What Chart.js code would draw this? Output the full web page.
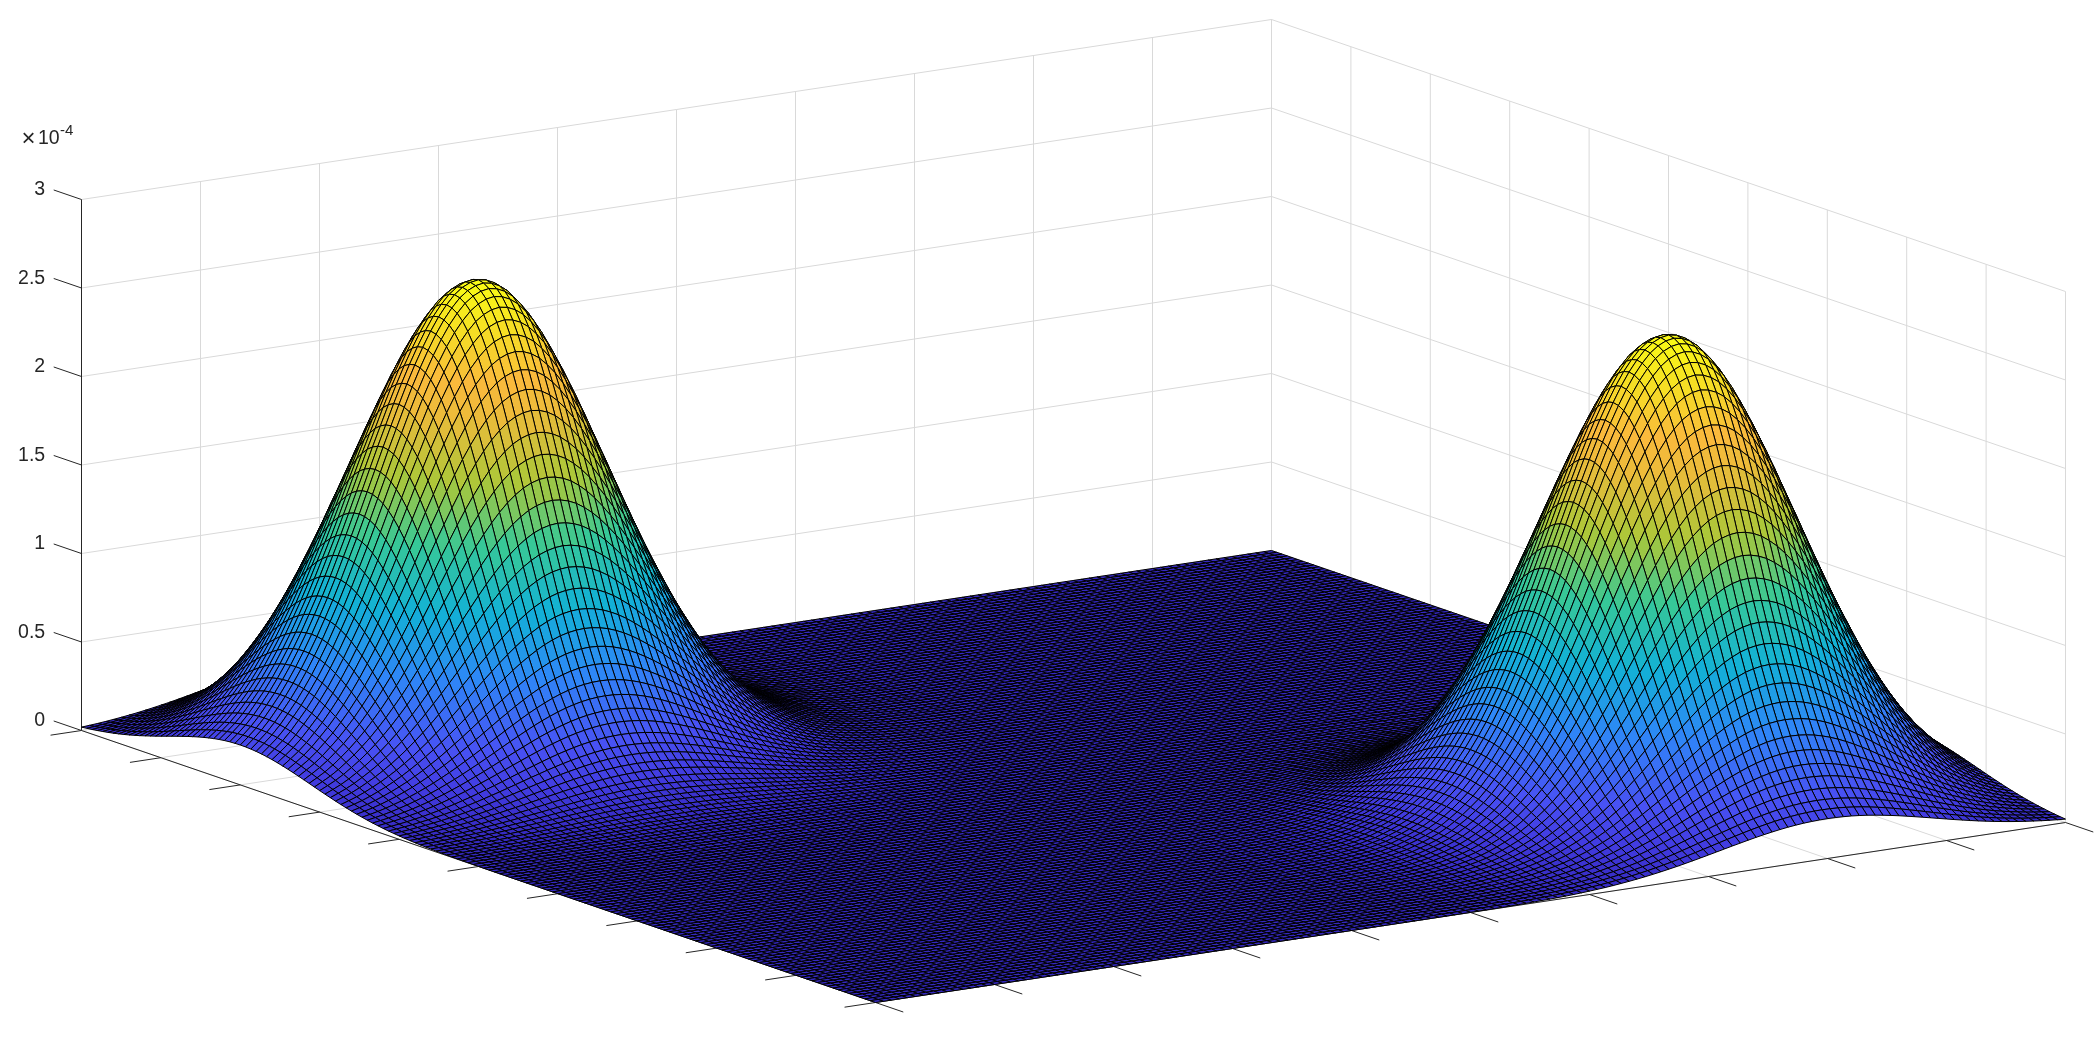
<!DOCTYPE html>
<html lang="en">
<head>
  <meta charset="UTF-8">
  <title>Surface</title>
  <style>
    html, body { margin: 0; padding: 0; background: #fff; }
    canvas { display: block; }
  </style>
</head>
<body>
  <canvas id="chart1" width="2095" height="1056"></canvas>

  <script src="https://cdnjs.cloudflare.com/ajax/libs/Chart.js/4.4.1/chart.umd.min.js"></script>
  <script>
    // tick values on the three axes
    const xTicks = [0, 0.1, 0.2, 0.3, 0.4, 0.5, 0.6, 0.7, 0.8, 0.9, 1];
    const yTicks = [0, 0.1, 0.2, 0.3, 0.4, 0.5, 0.6, 0.7, 0.8, 0.9, 1];
    const zTicks = [0, 0.5, 1, 1.5, 2, 2.5, 3];
    const zTickLabels = ["0", "0.5", "1", "1.5", "2", "2.5", "3"];

    // peak height of each bump (x 10^-4)
    const peakA = 2.65;
    const peakB = 2.65;

    // cross sections of the two bumps, 151 mesh lines per side
    const profileA = [
      .085,.100,.116,.135,.157,.180,.206,.234,.265,.298,
      .334,.371,.411,.453,.495,.539,.584,.629,.674,.717,
      .760,.801,.839,.874,.906,.934,.957,.976,.989,.997,
      1,
      .997,.989,.976,.957,.934,.906,.874,.839,.801,.760,
      .717,.674,.629,.584,.539,.495,.453,.411,.371,.334,
      .298,.265,.234,.206,.180,.157,.135,.116,.100,.085,
      .072,.060,.050,.042,.035,.029,.023,.019,.015,.012,
      .010,.008,.006,.005,.004,.003,.002,.002,.001,.001,
      0,0,0,0,0,0,0,0,0,0, 0,0,0,0,0,0,0,0,0,0,
      0,0,0,0,0,0,0,0,0,0, 0,0,0,0,0,0,0,0,0,0,
      0,0,0,0,0,0,0,0,0,0, 0,0,0,0,0,0,0,0,0,0,
      0,0,0,0,0,0,0,0,0,0
    ];
    const profileB = [
      0,0,0,0,0,0,0,0,0,0, 0,0,0,0,0,0,0,0,0,0,
      0,0,0,0,0,0,0,0,0,0, 0,0,0,0,0,0,0,0,0,0,
      0,0,0,0,0,0,0,0,0,0, 0,0,0,0,0,0,0,0,0,0,
      0,0,0,0,0,0,0,0,0,0,
      .001,.001,.002,.002,.003,.004,.005,.006,.008,.010,
      .012,.015,.019,.023,.029,.035,.042,.050,.060,.072,
      .085,.100,.116,.135,.157,.180,.206,.234,.265,.298,
      .334,.371,.411,.453,.495,.539,.584,.629,.674,.717,
      .760,.801,.839,.874,.906,.934,.957,.976,.989,.997,
      1,
      .997,.989,.976,.957,.934,.906,.874,.839,.801,.760,
      .717,.674,.629,.584,.539,.495,.453,.411,.371,.334,
      .298,.265,.234,.206,.180,.157,.135,.116,.100,.085
    ];

    // parula colour stops
    const colorStops = [
      [0, 52, 40, 190], [0.06, 66, 60, 225], [0.125, 72, 82, 244], [0.25, 46, 135, 247],
      [0.375, 18, 177, 214], [0.5, 55, 200, 151], [0.625, 171, 199, 57], [0.75, 235, 187, 58],
      [0.82, 250, 186, 60], [0.9, 245, 217, 40], [1, 249, 251, 21]
    ];

    // view of the box on the page
    const origin = { x: 81.5, y: 730.5 };
    const xDir = { x: 794, y: 272 };
    const yDir = { x: 1190, y: -180 };
    const zUnit = 177;

    function project(u, v, z) {
      return {
        x: origin.x + xDir.x * u + yDir.x * v,
        y: origin.y + xDir.y * u + yDir.y * v - zUnit * z,
      };
    }

    function addSegment(list, a, b) {
      list.push(a, b, { x: NaN, y: NaN });
    }

    function surfaceColor(z) {
      const t = Math.min(1, Math.max(0, z / peakA));
      for (let i = 1; i < colorStops.length; i++) {
        if (t <= colorStops[i][0]) {
          const a = colorStops[i - 1];
          const b = colorStops[i];
          const k = (t - a[0]) / (b[0] - a[0]);
          return `rgb(${a[1] + (b[1] - a[1]) * k},${a[2] + (b[2] - a[2]) * k},${a[3] + (b[3] - a[3]) * k})`;
        }
      }
      return "rgb(249,251,21)";
    }

    // grid on the floor and on the two back walls
    const zTop = zTicks[zTicks.length - 1];
    const gridLines = [];
    for (const u of xTicks) {
      addSegment(gridLines, project(u, 0, 0), project(u, 1, 0));
      addSegment(gridLines, project(u, 1, 0), project(u, 1, zTop));
    }
    for (const v of yTicks) {
      addSegment(gridLines, project(0, v, 0), project(1, v, 0));
      addSegment(gridLines, project(0, v, 0), project(0, v, zTop));
    }
    for (const z of zTicks) {
      addSegment(gridLines, project(0, 0, z), project(0, 1, z));
      addSegment(gridLines, project(0, 1, z), project(1, 1, z));
    }

    // axis lines and tick marks
    const axisLines = [];
    addSegment(axisLines, project(0, 0, 0), project(1, 0, 0));
    addSegment(axisLines, project(1, 0, 0), project(1, 1, 0));
    addSegment(axisLines, project(0, 0, 0), project(0, 0, zTop));
    for (const u of xTicks) addSegment(axisLines, project(u, 0, 0), project(u, -0.026, 0));
    for (const v of yTicks) addSegment(axisLines, project(1, v, 0), project(1.035, v, 0));
    for (const z of zTicks) addSegment(axisLines, project(0, 0, z), project(-0.035, 0, z));

    // mesh vertices
    const meshSize = profileA.length;
    const heights = [];
    const vertices = [];
    for (let i = 0; i < meshSize; i++) {
      for (let j = 0; j < meshSize; j++) {
        const z = peakA * profileA[i] * profileA[j] + peakB * profileB[i] * profileB[j];
        heights.push(z);
        vertices.push(project(i / (meshSize - 1), j / (meshSize - 1), z));
      }
    }

    // paints the mesh back to front from the vertices the scales placed
    const surfacePlugin = {
      id: "surface",
      afterDatasetsDraw(chart) {
        const ctx = chart.ctx;
        const pts = chart.getDatasetMeta(2).data;
        ctx.save();
        ctx.lineWidth = 1;
        ctx.strokeStyle = "#000";
        ctx.lineJoin = "round";
        for (let i = 0; i < meshSize - 1; i++) {
          for (let j = meshSize - 2; j >= 0; j--) {
            const a = i * meshSize + j;
            const b = a + 1;
            const c = a + meshSize + 1;
            const d = a + meshSize;
            ctx.beginPath();
            ctx.moveTo(pts[a].x, pts[a].y);
            ctx.lineTo(pts[b].x, pts[b].y);
            ctx.lineTo(pts[c].x, pts[c].y);
            ctx.lineTo(pts[d].x, pts[d].y);
            ctx.closePath();
            ctx.fillStyle = surfaceColor((heights[a] + heights[b] + heights[c] + heights[d]) / 4);
            ctx.fill();
            ctx.stroke();
          }
        }
        ctx.restore();
      },
      afterDraw(chart) {
        const ctx = chart.ctx;
        const sx = chart.scales.x;
        const sy = chart.scales.y;
        ctx.save();
        ctx.fillStyle = "#262626";
        ctx.textBaseline = "middle";
        ctx.textAlign = "right";
        ctx.font = "19.5px 'Liberation Sans'";
        zTicks.forEach((z, i) => {
          const p = project(-0.035, 0, z);
          ctx.fillText(zTickLabels[i], sx.getPixelForValue(p.x) - 8.5, sy.getPixelForValue(p.y));
        });
        // exponent label of the z axis
        ctx.textAlign = "left";
        ctx.fillText("10", 38, 139);
        ctx.font = "15px 'Liberation Sans'";
        ctx.fillText("-4", 60, 131);
        ctx.font = "24px 'Liberation Sans'";
        ctx.fillText("\u00d7", 21.5, 139);
        ctx.restore();
      },
    };

    new Chart(chart1, {
      type: "scatter",
      data: {
        datasets: [
          {
            label: "axes",
            data: axisLines,
            showLine: true,
            borderColor: "#262626",
            borderWidth: 1,
            pointRadius: 0,
            spanGaps: false,
          },
          {
            label: "grid",
            data: gridLines,
            showLine: true,
            borderColor: "#d9d9d9",
            borderWidth: 1,
            pointRadius: 0,
            spanGaps: false,
          },
          {
            label: "surface",
            data: vertices,
            showLine: false,
            pointRadius: 0,
          },
        ],
      },
      options: {
        responsive: false,
        animation: false,
        events: [],
        layout: { padding: 0 },
        plugins: { legend: { display: false }, tooltip: { enabled: false } },
        scales: {
          x: { type: "linear", display: false, min: 0, max: 2095 },
          y: { type: "linear", display: false, min: 0, max: 1056, reverse: true },
        },
      },
      plugins: [surfacePlugin],
    });
  </script>
</body>
</html>
